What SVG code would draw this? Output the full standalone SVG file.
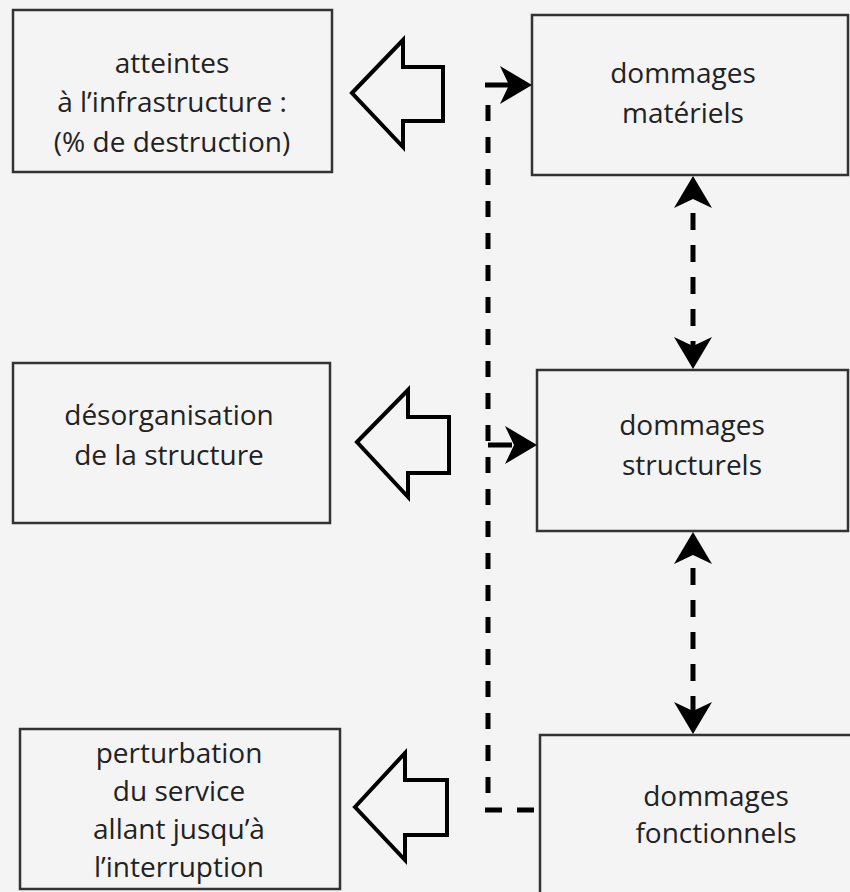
<svg xmlns="http://www.w3.org/2000/svg" xmlns:xlink="http://www.w3.org/1999/xlink" width="850" height="892" viewBox="0 0 850 892">
<defs>
<style>
.box{fill:#f4f4f4;stroke:#333;stroke-width:2.5}
.big{fill:#f4f4f4;stroke:#000;stroke-width:4;stroke-linejoin:miter}
.lbl{font-family:"Open Sans","Noto Sans","DejaVu Sans",sans-serif;font-size:28px;fill:#222;text-anchor:middle}
.dash{fill:none;stroke:#000;stroke-width:5;stroke-dasharray:16 16}
.stub{fill:none;stroke:#000;stroke-width:5}
</style>
<path id="ah" d="M0,0 L-32,-19 L-23,0 L-32,19 Z" fill="#000"/>
</defs>
<rect width="850" height="892" fill="#f4f4f4"/>

<g id="n-atteintes">
<rect class="box" x="13" y="10" width="319" height="162"/>
<text class="lbl" x="172" y="73">atteintes</text>
<text class="lbl" x="172" y="112">à l’infrastructure :</text>
<text class="lbl" x="172" y="152">(% de destruction)</text>
</g>
<g id="n-desorganisation">
<rect class="box" x="13" y="363" width="317" height="160"/>
<text class="lbl" x="169" y="425">désorganisation</text>
<text class="lbl" x="169" y="465">de la structure</text>
</g>
<g id="n-perturbation">
<rect class="box" x="20" y="729" width="320" height="160"/>
<text class="lbl" x="179" y="763">perturbation</text>
<text class="lbl" x="179" y="801">du service</text>
<text class="lbl" x="179" y="839">allant jusqu’à</text>
<text class="lbl" x="179" y="877">l’interruption</text>
</g>
<g id="n-materiels">
<rect class="box" x="532" y="15" width="316" height="160"/>
<text class="lbl" x="683" y="83">dommages</text>
<text class="lbl" x="683" y="123">matériels</text>
</g>
<g id="n-structurels">
<rect class="box" x="537" y="370" width="311" height="161"/>
<text class="lbl" x="692" y="435">dommages</text>
<text class="lbl" x="692" y="475">structurels</text>
</g>
<g id="n-fonctionnels">
<rect class="box" x="540" y="735" width="330" height="180"/>
<text class="lbl" x="716" y="806">dommages</text>
<text class="lbl" x="716" y="843">fonctionnels</text>
</g>

<g id="connectors">
<path class="big" d="M352,93 L403,40 L403,67 L443,67 L443,121 L403,121 L403,147 Z"/>
<path class="big" d="M357,442 L408,390 L408,417 L449,417 L449,473 L408,473 L408,497 Z"/>
<path class="big" d="M355,807 L405,753 L405,780 L447,780 L447,835 L405,835 L405,860 Z"/>

<path class="stub" d="M485,85 H512"/>
<use xlink:href="#ah" href="#ah" transform="translate(532,85)"/>
<path class="dash" d="M488,105 V795"/>
<path class="stub" d="M488,445 H512"/>
<use xlink:href="#ah" href="#ah" transform="translate(537,445)"/>
<path class="dash" d="M485,810 H540" style="stroke-dasharray:17 15"/>

<path class="dash" d="M693,200 V350" style="stroke-dasharray:17 15;stroke-dashoffset:-13"/>
<use xlink:href="#ah" href="#ah" transform="translate(693,176) rotate(-90)"/>
<use xlink:href="#ah" href="#ah" transform="translate(693,369) rotate(90)"/>
<path class="dash" d="M693,555 V712" style="stroke-dasharray:17 15;stroke-dashoffset:-13"/>
<use xlink:href="#ah" href="#ah" transform="translate(693,532) rotate(-90)"/>
<use xlink:href="#ah" href="#ah" transform="translate(693,734) rotate(90)"/>
</g>
</svg>
